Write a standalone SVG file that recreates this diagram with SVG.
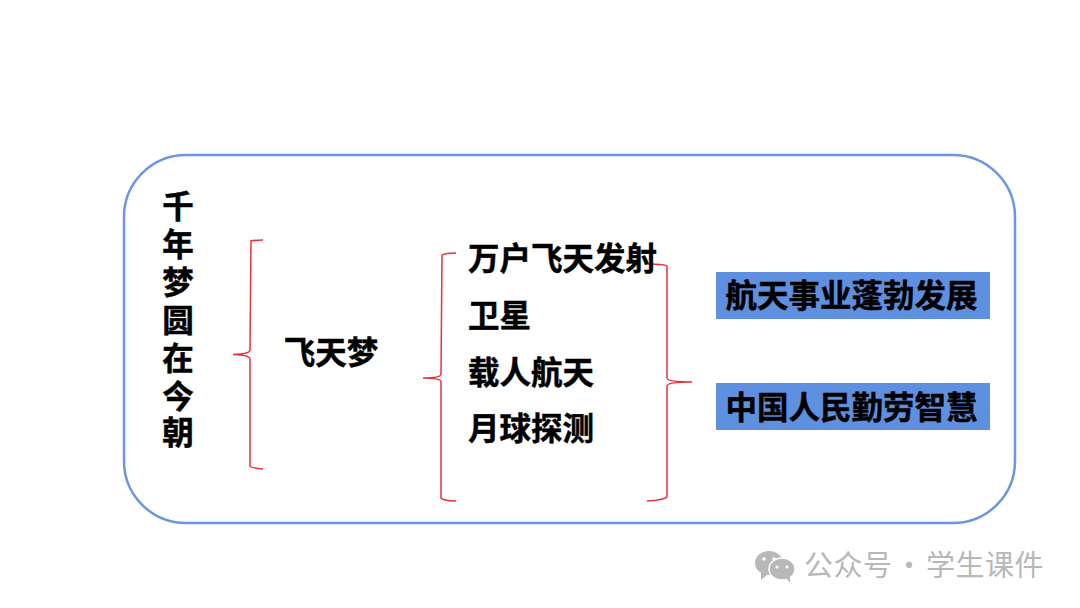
<svg xmlns="http://www.w3.org/2000/svg" width="1080" height="608" viewBox="0 0 1080 608">
<style>
.t{font-family:"Noto Sans CJK SC","Liberation Sans",sans-serif;font-weight:700;font-size:31.500px;fill:#000;stroke:#000;stroke-width:.5}
.b{fill:none;stroke:#e8303a;stroke-width:1.5}
.box{fill:#5f90e0}
.w{font-family:"Noto Sans CJK SC","Liberation Sans",sans-serif;font-size:29px;fill:#b8b8b8;letter-spacing:.5px;word-spacing:-5px}
</style>
<rect width="1080" height="608" fill="#fff"/>
<rect id="frame" x="124" y="155" width="891" height="368" rx="62" ry="62" fill="#fff" stroke="#6a97e0" stroke-width="2.5"/>
<g id="title">
<text class="t" text-anchor="middle"><tspan x="178" y="218">千</tspan><tspan x="178" y="256">年</tspan><tspan x="178" y="294">梦</tspan><tspan x="178" y="332">圆</tspan><tspan x="178" y="370">在</tspan><tspan x="178" y="408">今</tspan><tspan x="178" y="444">朝</tspan></text>
</g>
<g id="connectors">
<path class="b" d="M263 240 Q254 240 251 241 L250 350 Q250 354 233 354.500 Q250 355 250 359 L250 466 Q251 468 263 469"/>
<path class="b" d="M456 253 Q445 253 442 255 L441 374 Q441 378 423 378 Q441 378 441 382 L441 498 Q444 501 456 501"/>
<path class="b" d="M647 264 Q664 264 667 266 L667 378 Q667 382 692 382 Q667 382 667 386 L667 497 Q664 500 647 501"/>
</g>
<g id="node-feitianmeng"><text class="t" x="331" y="364" text-anchor="middle">飞天梦</text></g>
<g id="node-list">
<text class="t" x="468" y="270">万户飞天发射</text>
<text class="t" x="468" y="327">卫星</text>
<text class="t" x="468" y="384">载人航天</text>
<text class="t" x="468" y="440">月球探测</text>
</g>
<g id="node-hangtian"><rect class="box" x="716" y="272" width="274" height="47"/><text class="t" x="851.500" y="307" text-anchor="middle">航天事业蓬勃发展</text></g>
<g id="node-renmin"><rect class="box" x="716" y="383" width="274" height="47"/><text class="t" x="851.500" y="419" text-anchor="middle">中国人民勤劳智慧</text></g>
<g id="watermark">
<ellipse cx="769" cy="563" rx="14" ry="12" fill="#b8b8b8"/>
<path d="M761 572 L761 580 L768 574 Z" fill="#b8b8b8"/>
<ellipse cx="782" cy="569" rx="13" ry="11" fill="#b8b8b8" stroke="#fff" stroke-width="1.500"/>
<path d="M786 578 L790 583 L790 576 Z" fill="#b8b8b8"/>
<circle cx="764" cy="559" r="1.800" fill="#fff"/><circle cx="774" cy="559" r="1.800" fill="#fff"/>
<circle cx="777" cy="567" r="1.500" fill="#fff"/><circle cx="787" cy="567" r="1.500" fill="#fff"/>
<text class="w" x="804" y="576">公众号 · 学生课件</text>
</g>
</svg>
